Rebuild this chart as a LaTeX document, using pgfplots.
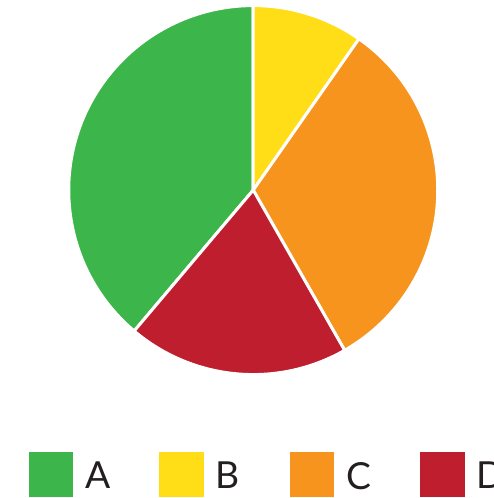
\documentclass[border=0pt]{standalone}
\usepackage{pgfplots}
\pgfplotsset{compat=1.18}
\usepackage{pgfplotstable}
\usepackage{fontspec}
\setmainfont{Lato}
\definecolor{cA}{HTML}{3CB54A}
\definecolor{cB}{HTML}{FFDD17}
\definecolor{cC}{HTML}{F7941E}
\definecolor{cD}{HTML}{BE1E2D}
\definecolor{textcol}{HTML}{231F20}
\pgfplotstableread{
name value col
A 40 cA
B 10 cB
C 33 cC
D 20 cD
}\piedata
\begin{document}
\begin{tikzpicture}
\useasboundingbox (0,0) rectangle (12.325cm,12.45cm);
\clip (0,0) rectangle (12.325cm,12.45cm);
\begin{axis}[
  x=0.025cm, y=0.025cm,
  xmin=0, xmax=493, ymin=0, ymax=498,
  hide axis, clip=false, disabledatascaling,
  legend columns=4,
  legend image code/.code={\fill[#1, draw=none] (0cm,-0.5075cm) rectangle (1.1125cm,0.6175cm);},
  legend style={at={(axis cs:29,1)}, anchor=south west, draw=none, fill=none,
    inner sep=0pt, outer sep=0pt,
    nodes={inner sep=0pt, outer sep=0pt, font=\fontsize{26.5}{30}\selectfont, text=textcol}},
]
\pgfplotstablegetrowsof{\piedata}
\pgfmathtruncatemacro\nrows{\pgfplotsretval-1}
\def\total{0}
\pgfplotsforeachungrouped \i in {0,...,\nrows}{%
  \pgfplotstablegetelem{\i}{value}\of\piedata
  \pgfmathsetmacro\total{\total+\pgfplotsretval}}
\pgfplotstablegetelem{0}{value}\of\piedata
\pgfmathsetmacro\startang{90+\pgfplotsretval/\total*360}
\def\cum{0}
\pgfplotsforeachungrouped \i in {0,...,\nrows}{%
  \pgfplotstablegetelem{\i}{value}\of\piedata \let\myval\pgfplotsretval
  \pgfplotstablegetelem{\i}{col}\of\piedata \let\mycol\pgfplotsretval
  \pgfmathsetmacro\angA{\startang-\cum/\total*360}
  \pgfmathsetmacro\cum{\cum+\myval}
  \pgfmathsetmacro\angB{\startang-\cum/\total*360}
  \edef\temp{\noexpand\filldraw[fill=\mycol, draw=white, line width=0.075cm, line join=round]
    (axis cs:253.3,308) -- ++(\angA:4.6125cm) arc[start angle=\angA, end angle=\angB, radius=4.6125cm] -- cycle;}%
  \temp
}
\addlegendimage{fill=cA}
\addlegendimage{fill=cB}
\addlegendimage{fill=cC}
\addlegendimage{fill=cD}
\legend{\hspace{0.3cm}\makebox[1.85cm][l]{A},\hspace{0.3cm}\makebox[1.85cm][l]{B},\hspace{0.3cm}\makebox[1.85cm][l]{C},\hspace{0.3cm}\makebox[1.85cm][l]{D}}
\end{axis}
\end{tikzpicture}
\end{document}
